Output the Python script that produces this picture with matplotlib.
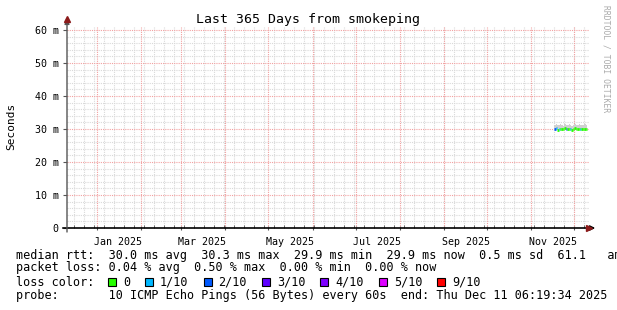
import matplotlib
matplotlib.use("Agg")
import matplotlib.pyplot as plt
import pandas as pd
import numpy as np

# ---- data ----
t_start = pd.Timestamp("2024-12-11 06:19:34")
t_end = pd.Timestamp("2025-12-11 06:19:34")

days = ["2025-11-17", "2025-11-18", "2025-11-19",
        "2025-11-20", "2025-11-21", "2025-11-22", "2025-11-23", "2025-11-24",
        "2025-11-25", "2025-11-26", "2025-11-27", "2025-11-28", "2025-11-29",
        "2025-11-30", "2025-12-01", "2025-12-02", "2025-12-03", "2025-12-04",
        "2025-12-05", "2025-12-06", "2025-12-07", "2025-12-08", "2025-12-09"]
median_ms = [30.0, 30.2, 29.8, 30.0, 30.1, 29.9, 30.0, 30.3,
             30.0, 29.9, 30.1, 30.0, 29.8, 30.0, 30.2, 30.0, 29.9, 30.1,
             30.0, 30.0, 29.9, 30.1, 30.0]
smoke_lo = [29.8, 29.9, 29.6, 29.8, 29.8, 29.7, 29.8, 29.9,
            29.8, 29.7, 29.8, 29.8, 29.6, 29.8, 29.9, 29.8, 29.7, 29.8,
            29.8, 29.8, 29.7, 29.8, 29.8]
smoke_hi = [31.1, 31.5, 31.3, 31.1, 31.6, 31.2, 31.0, 31.4,
            31.2, 31.1, 31.5, 31.3, 31.0, 31.2, 31.6, 31.1, 31.2, 31.4,
            31.1, 31.3, 31.2, 31.5, 31.2]
loss_pings = [2, 1, 0, 1, 0, 0, 0, 0, 2, 0, 0, 1, 0,
              0, 0, 0, 0, 0, 1, 0, 0, 0, 0]

loss_levels = [0, 1, 2, 3, 4, 5, 9]
loss_labels = ["0", "1/10", "2/10", "3/10", "4/10", "5/10", "9/10"]
loss_colors = ["#26ff00", "#00b8ff", "#0059ff", "#5e00ff", "#7e00ff", "#dd00ff", "#ff0000"]

y_ticks = [0, 10, 20, 30, 40, 50, 60]
y_labels = ["0", "10 m", "20 m", "30 m", "40 m", "50 m", "60 m"]

rtt_line = "median rtt:  30.0 ms avg  30.3 ms max  29.9 ms min  29.9 ms now  0.5 ms sd  61.1   am/as"
loss_line = "packet loss: 0.04 % avg  0.50 % max  0.00 % min  0.00 % now"
probe_line = "probe:       10 ICMP Echo Pings (56 Bytes) every 60s  end: Thu Dec 11 06:19:34 2025"

MONO = "DejaVu Sans Mono"
W, H = 617, 310
GRID = "#d9d9d9"
MGRID = "#f2a0a0"

def fx(px):
    return px / W

def fy(py):
    return 1 - py / H

fig = plt.figure(figsize=(W / 100, H / 100), dpi=100)
fig.patch.set_facecolor("white")
ax = fig.add_axes([fx(67), fy(228), fx(589) - fx(67), (228 - 27) / H])

x_dates = pd.to_datetime(days)
one_day = pd.Timedelta(days=1)

# smoke
ax.fill_between(list(x_dates) + [x_dates[-1] + one_day], smoke_lo + [smoke_lo[-1]],
                smoke_hi + [smoke_hi[-1]], step="post", color="#d0d0d0", lw=0, zorder=3)
# median line, coloured by loss
for d, m, lp in zip(x_dates, median_ms, loss_pings):
    c = loss_colors[loss_levels.index(lp)]
    ax.plot([d, d + one_day], [m, m], color=c, lw=2, solid_capstyle="butt", zorder=4)

ax.set_xlim(t_start, t_end)
ax.set_ylim(0, 60.9)

# grid
month_starts = pd.date_range("2025-01-01", "2025-12-01", freq="MS")
weeks = pd.date_range("2024-12-16", "2025-12-08", freq="W-MON")
for w in weeks:
    ax.axvline(w, color=GRID, lw=0.8, ls=(0, (1, 1)), zorder=1)
for y in np.arange(2, 61, 2):
    if y % 10:
        ax.axhline(y, color=GRID, lw=0.8, ls=(0, (1, 1)), zorder=1)
for m in month_starts:
    ax.axvline(m, color=MGRID, lw=0.8, ls=(0, (1, 1)), zorder=2)
for y in y_ticks[1:]:
    ax.axhline(y, color=MGRID, lw=0.8, ls=(0, (1, 1)), zorder=2)

# axes styling
for s in ax.spines.values():
    s.set_visible(False)
ax.set_yticks(y_ticks)
ax.set_yticklabels(y_labels, family=MONO, fontsize=7.2)
ax.tick_params(axis="y", length=3, width=0.8, color="#555555", pad=3)

label_months = pd.date_range("2025-01-01", "2025-11-01", freq="2MS")
ax.set_xticks(month_starts)
ax.set_xticklabels([])
ax.tick_params(axis="x", length=3, width=0.8, direction="inout", color="#555555")
ax.set_xticks(weeks, minor=True)
ax.tick_params(axis="x", which="minor", length=2, width=0.6, direction="in", color="#555555")
for m in label_months:
    mid = m + pd.Timedelta(days=15)
    ax.text(mid, -0.045, m.strftime("%b %Y"), transform=ax.get_xaxis_transform(),
            ha="center", va="top", family=MONO, fontsize=7.2)

# axis lines with arrows
ax.annotate("", xy=(1.012, 0), xytext=(-0.008, 0), xycoords="axes fraction",
            arrowprops=dict(arrowstyle="-|>", color="black", lw=1.2,
                            mutation_scale=7, shrinkA=0, shrinkB=0), zorder=6)
ax.annotate("", xy=(0, 1.04), xytext=(0, -0.02), xycoords="axes fraction",
            arrowprops=dict(arrowstyle="-|>", color="#555555", lw=1.0,
                            mutation_scale=7, shrinkA=0, shrinkB=0), zorder=6)
ax.plot([1.0], [0], marker=">", color="#8b1a1a", ms=4, transform=ax.transAxes, clip_on=False, zorder=7)
ax.plot([0], [1.04], marker="^", color="#8b1a1a", ms=4, transform=ax.transAxes, clip_on=False, zorder=7)

# title, y label, watermark
fig.text(fx(308), fy(19), "Last 365 Days from smokeping", ha="center", va="center",
         family=MONO, fontsize=9.5)
fig.text(fx(11), fy(126), "Seconds", rotation=90, ha="center", va="center",
         family=MONO, fontsize=8)
fig.text(fx(606), fy(5), "RRDTOOL / TOBI OETIKER", rotation=270, ha="center", va="top",
         family=MONO, fontsize=5.8, color="#aaaaaa")

# legend block
fs = 8.5
fig.text(fx(16), fy(255), rtt_line, ha="left", va="center", family=MONO, fontsize=fs)
fig.text(fx(16), fy(268), loss_line, ha="left", va="center", family=MONO, fontsize=fs)
fig.text(fx(16), fy(282), "loss color:", ha="left", va="center", family=MONO, fontsize=fs)
fig.text(fx(16), fy(296), probe_line, ha="left", va="center", family=MONO, fontsize=fs)

x = 108
for lab, col in zip(loss_labels, loss_colors):
    fig.patches.append(plt.Rectangle((fx(x), fy(286)), 8 / W, 8 / H, transform=fig.transFigure,
                                     facecolor=col, edgecolor="black", lw=0.8))
    fig.text(fx(x + 15), fy(282), lab, ha="left", va="center", family=MONO, fontsize=fs)
    x = x + 15 + len(lab) * 7.1 + 15

fig.savefig("out.png", dpi=100)
